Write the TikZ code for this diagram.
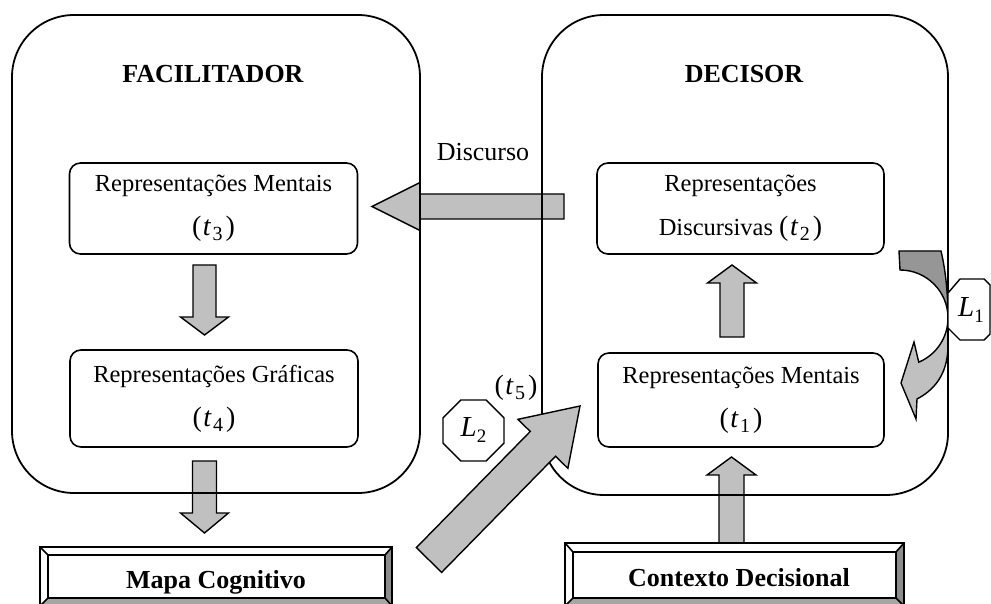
\documentclass[tikz,border=0pt]{standalone}
\usepackage{fontspec}
\setmainfont{Liberation Serif}
\usetikzlibrary{calc,shapes.geometric}

\definecolor{arrowgray}{HTML}{C0C0C0}
\definecolor{backgray}{HTML}{969696}
\definecolor{bevelside}{HTML}{8C8C8C}
\definecolor{bevelfoot}{HTML}{A6A6A6}

% (t_n) time marks and L_n loop labels
\newcommand\tsub[2]{{\fontsize{28}{30}\selectfont(\kern1.5pt\textit{#1}\kern1.5pt\raisebox{-5pt}{\fontsize{20}{20}\selectfont #2}\kern3pt)}}
\newcommand\loopmark[2]{\fontsize{29}{30}\selectfont\textit{#1}\raisebox{-6pt}{\fontsize{19}{19}\selectfont #2}}

% block arrow: [style] {tail} {tip} {shaft half width} {head half width} {head length}
\newcommand\fatarrow[6][]{%
  \draw[blockarrow,#1]
    ($(#2)!#4!90:(#3)$) --
    ($(#3)!#6!(#2)!#4!90:(#3)$) --
    ($(#3)!#6!(#2)!#5!90:(#3)$) --
    (#3) --
    ($(#3)!#6!(#2)!#5!-90:(#3)$) --
    ($(#3)!#6!(#2)!#4!-90:(#3)$) --
    ($(#2)!#4!-90:(#3)$) -- cycle;}

\begin{document}
\begin{tikzpicture}[x=1pt,y=-1pt,
  txt/.style={font=\fontsize{26}{30}\selectfont, inner sep=0pt},
  title/.style={font=\fontsize{26}{30}\selectfont\bfseries, inner sep=0pt, anchor=base},
  bigbox/.style={draw, line width=1.8pt, rounded corners=62pt, inner sep=0pt},
  innerbox/.style={draw, fill=white, line width=1.6pt, rounded corners=11pt,
    minimum width=288, minimum height=93, inner sep=0pt, align=center,
    font=\fontsize{24.5}{29}\selectfont},
  blockarrow/.style={draw, fill=arrowgray, line width=1.4pt, line join=miter},
  backpart/.style={draw, fill=backgray, line width=1.4pt, line join=miter},
  bevelline/.style={draw, line width=1.6pt},
  octagon/.style={draw, fill=white, line width=1.4pt, regular polygon,
    regular polygon sides=8, minimum size=66, inner sep=0pt}]

\useasboundingbox (0,0) rectangle (991,604);

% ---- speech arrow from the decision maker to the facilitator
\coordinate (dis-s) at (564,206.5);
\coordinate (dis-e) at (372,206.5);
\fatarrow{dis-s}{dis-e}{12.5pt}{24pt}{48pt}

% ---- vertical arrows
\coordinate (lf1-s) at (204.5,265);
\coordinate (lf1-e) at (204.5,335);
\fatarrow{lf1-s}{lf1-e}{11.5pt}{24pt}{18pt}
\coordinate (lf2-s) at (204.5,461);
\coordinate (lf2-e) at (204.5,533);
\fatarrow{lf2-s}{lf2-e}{12pt}{24pt}{20pt}
\coordinate (rt1-s) at (732,337);
\coordinate (rt1-e) at (732,265);
\fatarrow{rt1-s}{rt1-e}{12pt}{24.5pt}{18pt}
\coordinate (rt2-s) at (731.5,543);
\coordinate (rt2-e) at (731.5,457);
\fatarrow{rt2-s}{rt2-e}{12.5pt}{24.5pt}{18pt}

% ---- curved loop arrow L1 (back face darker)
\draw[backpart] (899,251) -- (941,251) .. controls (946,272) and (948,296) .. (948,318)
  arc[start angle=0, end angle=-90, radius=48] -- cycle;
\draw[blockarrow] (948,318) arc[start angle=0, end angle=67, radius=48]
  -- (914,342) -- (901,383) -- (916,419) -- (917,399)
  .. controls (938,388) and (948,370) .. (948,345) -- cycle;

% ---- the two actors
\node[bigbox, minimum width=408, minimum height=478] (facil) at (216,254) {};
\node[bigbox, minimum width=406, minimum height=480] (decis) at (745,255) {};
\node[title] (facil-t) at (213,83) {FACILITADOR};
\node[title] (decis-t) at (744,83) {DECISOR};

% ---- representations
\node[innerbox, minimum height=91] (fmental) at (213.5,208.5) {Representações Mentais\\[15pt]\tsub{t}{3}};
\node[innerbox, minimum height=97] (fgraf) at (214,398.5) {Representações Gráficas\\[15pt]\tsub{t}{4}};
\node[innerbox, minimum width=287, minimum height=91] (ddisc) at (740.5,208.5) {Representações\\[15pt]Discursivas \tsub{t}{2}};
\node[innerbox, minimum width=286, minimum height=94] (dmental) at (741,400) {Representações Mentais\\[15pt]\tsub{t}{1}};

% ---- bevelled boxes at the bottom
\fill[white] (40,547) rectangle (392,606);
\fill[bevelside] (385,555) -- (392,547) -- (392,606) -- (385,598) -- cycle;
\fill[bevelfoot] (48,598) -- (385,598) -- (392,606) -- (40,606) -- cycle;
\draw[bevelline] (40,547) rectangle (392,606);
\draw[bevelline] (48,555) rectangle (385,598);
\draw[bevelline] (40,547) -- (48,555) (392,547) -- (385,555) (40,606) -- (48,598) (392,606) -- (385,598);
\node[title] (mapa) at (216,588) {Mapa Cognitivo};

\fill[white] (565,543) rectangle (904,606);
\fill[bevelside] (896,552) -- (904,543) -- (904,606) -- (896,598) -- cycle;
\fill[bevelfoot] (573,598) -- (896,598) -- (904,606) -- (565,606) -- cycle;
\draw[bevelline] (565,543) rectangle (904,606);
\draw[bevelline] (573,552) rectangle (896,598);
\draw[bevelline] (565,543) -- (573,552) (904,543) -- (896,552) (565,606) -- (573,598) (904,606) -- (896,598);
\node[title] (contexto) at (739,586) {Contexto Decisional};

% ---- feedback from the cognitive map
\coordinate (dg-s) at (429,560);
\coordinate (dg-e) at (580,406);
\fatarrow{dg-s}{dg-e}{17.7pt}{35pt}{53pt}

% ---- labels
\node[txt, anchor=base] (discurso) at (483,161) {Discurso};
\node[txt] (tfive) at (516,388) {\tsub{t}{5}};
\node[octagon] (ltwo) at (473.5,430.5) {\loopmark{L}{2}};
\draw[fill=white, line width=1.4pt] (948,293) -- (960,279) -- (984,279) -- (990,285)
  -- (990,334) -- (984,340) -- (960,340) -- (948,328) -- cycle;
\node[inner sep=0pt] (lone) at (971,310) {\loopmark{L}{1}};

\end{tikzpicture}
\end{document}
